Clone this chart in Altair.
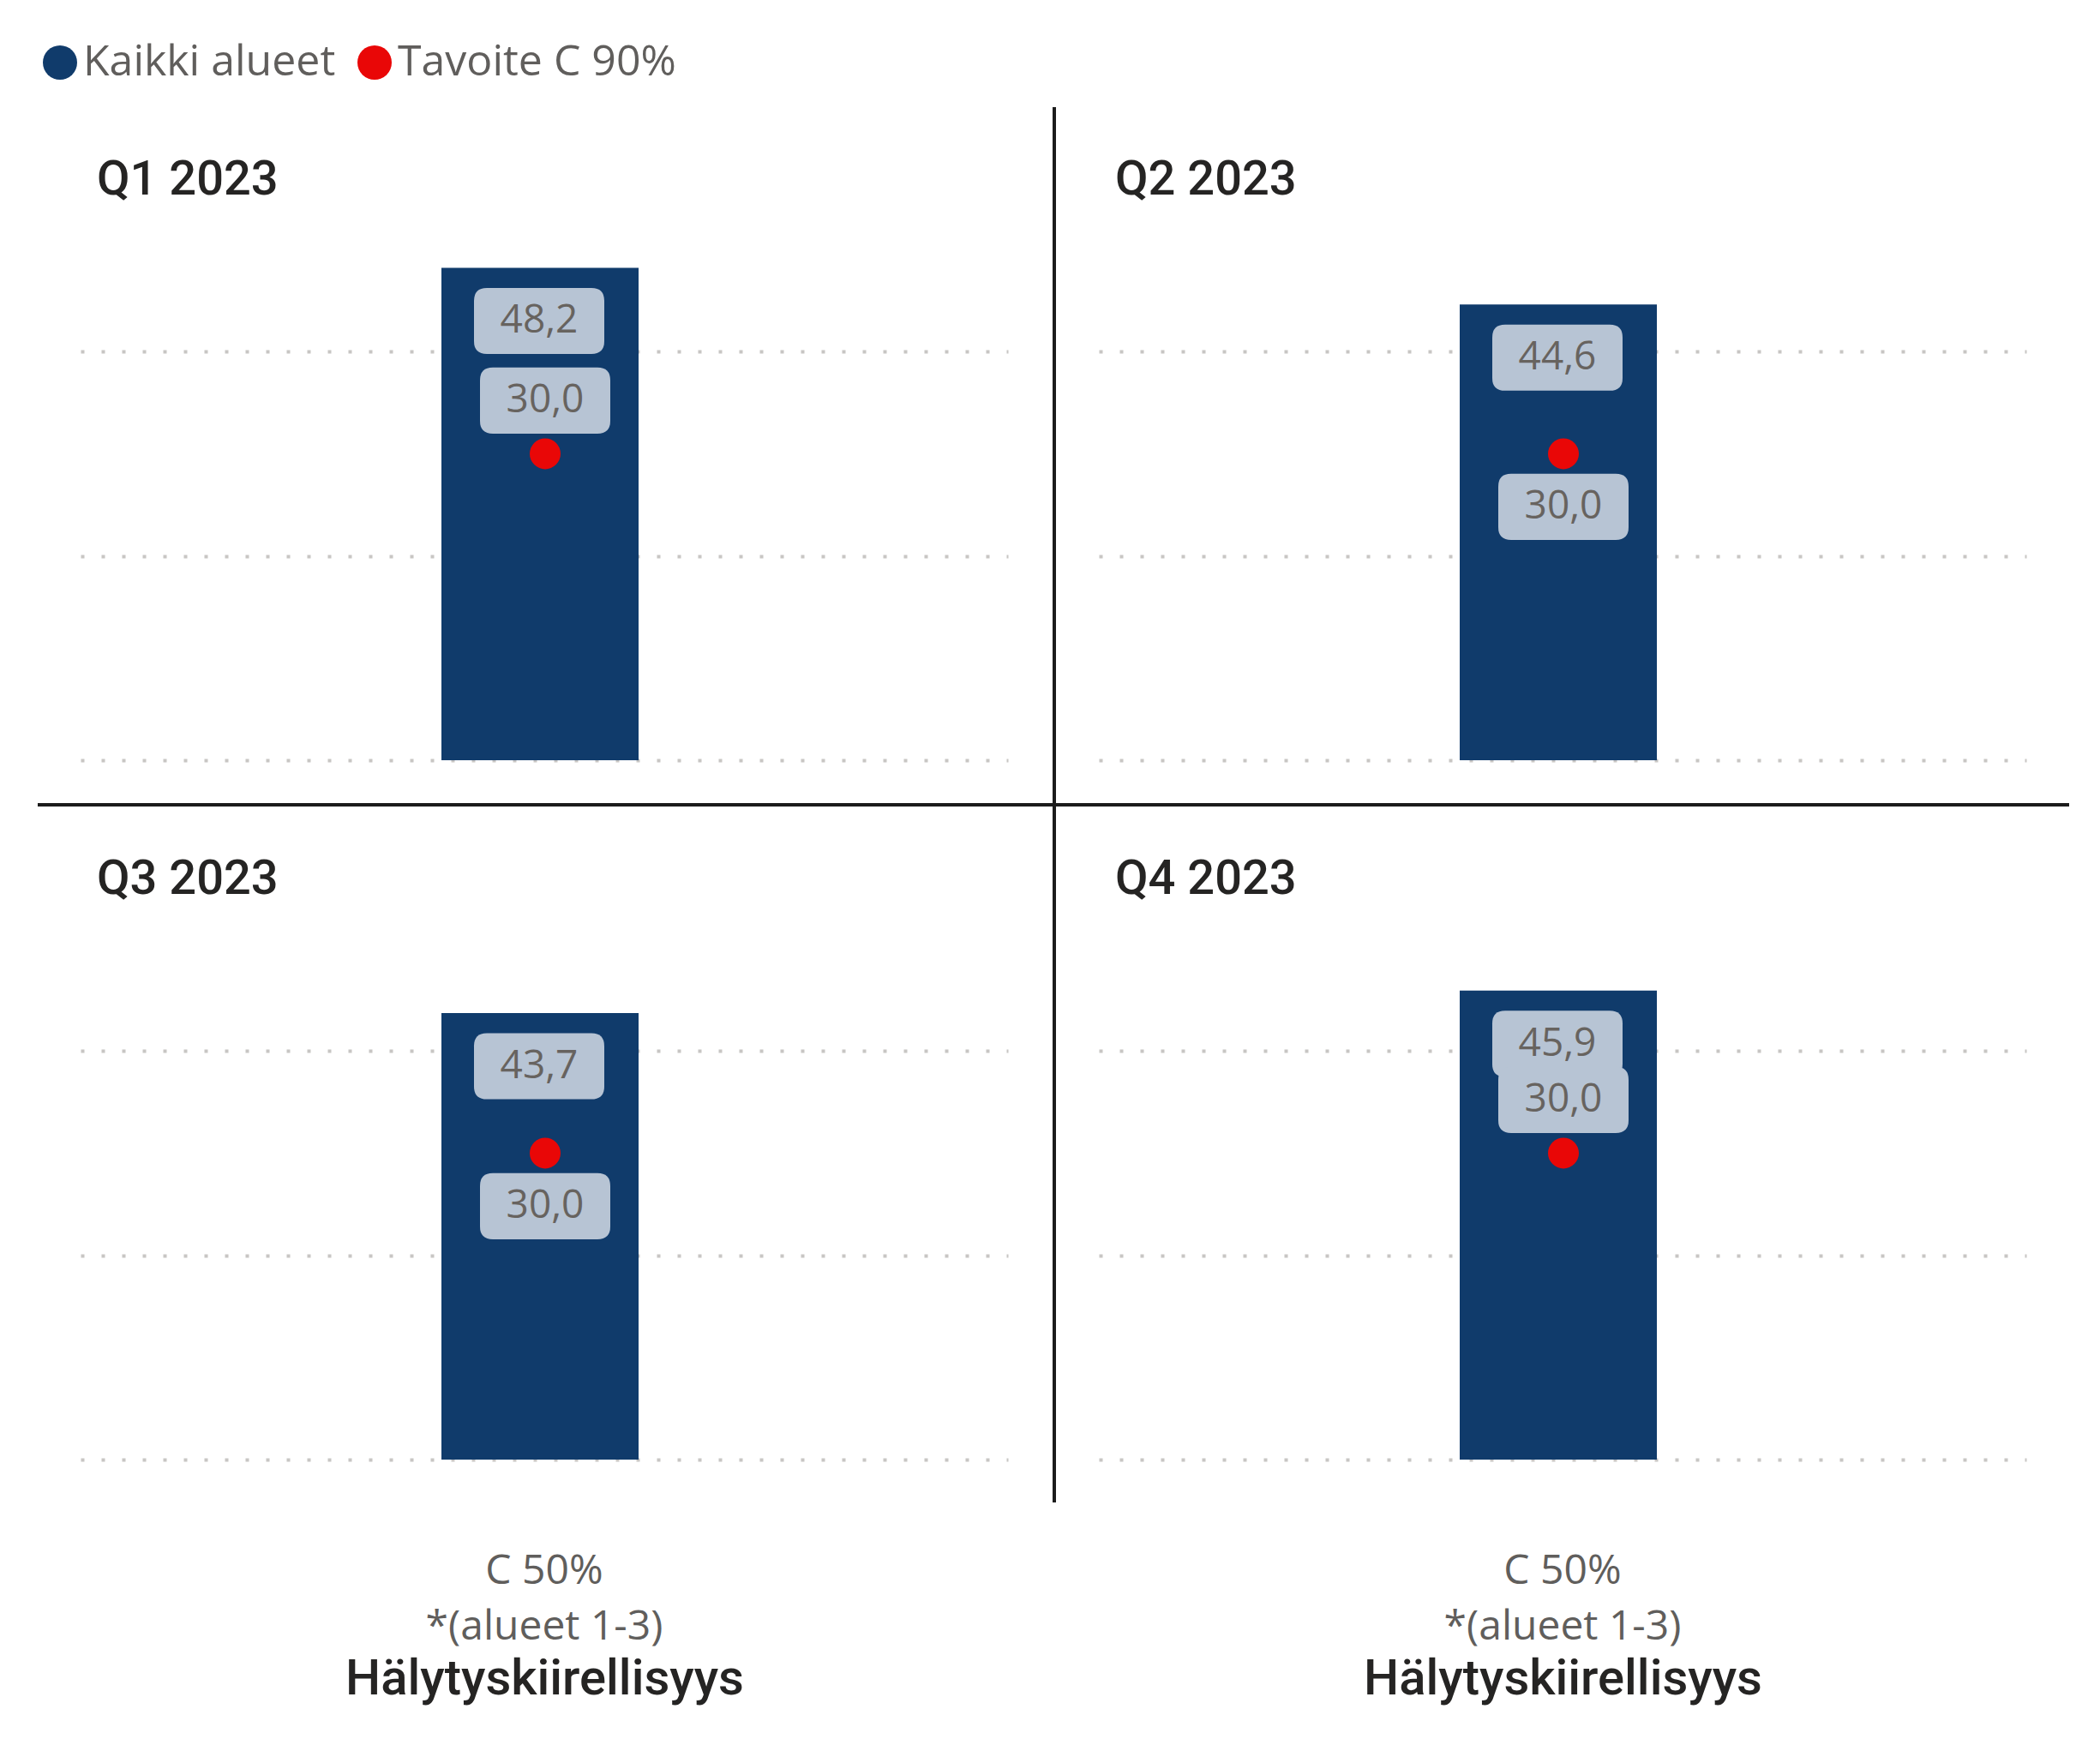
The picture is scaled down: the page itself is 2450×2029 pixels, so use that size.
import altair as alt
import pandas as pd

# ---- data ----
quarters = ["Q1 2023", "Q2 2023", "Q3 2023", "Q4 2023"]
category_label = "C 50%|*(alueet 1-3)"
bar_values = [48.2, 44.6, 43.7, 45.9]
target_values = [30.0, 30.0, 30.0, 30.0]
target_label_side = ["above", "below", "below", "above"]
series_names = ["Kaikki alueet", "Tavoite C 90%"]
series_colors = ["#103B6B", "#E90707"]
axis_title = "Hälytyskiirellisyys"
grid_values = [0, 20, 40]

# ---- styling ----
W, H = 1082, 816
Y_DOMAIN = [-4.36, 64.09]
SANS = "Open Sans"
DIN = "Roboto"
GRAY = "#605E5C"
DARK = "#252423"
BOX_FILL = "#B7C4D4"
LABEL_GRAY = "#67635F"
DIVIDER = "#1C1C1C"
BOX_PATH = ("M -0.803,-0.507 L 0.803,-0.507 Q 1,-0.507 1,-0.31 L 1,0.31 "
            "Q 1,0.507 0.803,0.507 L -0.803,0.507 Q -1,0.507 -1,0.31 "
            "L -1,-0.31 Q -1,-0.507 -0.803,-0.507 Z")
BOX_SIZE = 152 * 152
LABEL_OFF = 62

color_scale = alt.Scale(domain=series_names, range=series_colors)
legend_def = alt.Legend(
    title=None, orient="none", legendX=-49, legendY=-75, direction="horizontal",
    symbolType="circle", symbolSize=1600, symbolStrokeWidth=0,
    labelFont=SANS, labelFontSize=50, labelColor=GRAY, labelOffset=2,
    labelLimit=2000, columnPadding=20, padding=0, rowPadding=0,
)


def panel(i):
    top = i < 2
    left = i % 2 == 0
    df = pd.DataFrame({
        "quarter": [quarters[i]],
        "category": [category_label],
        "value": [bar_values[i]],
        "target": [target_values[i]],
        "side": [target_label_side[i]],
        "bar_series": [series_names[0]],
        "target_series": [series_names[1]],
    })
    base = alt.Chart(df).transform_calculate(
        value_label="replace(format(datum.value, '.1f'), '.', ',')",
        target_label="replace(format(datum.target, '.1f'), '.', ',')",
    )

    if top:
        x_axis = None
    else:
        x_axis = alt.Axis(
            title=axis_title, labelExpr="split(datum.label, '|')",
            labelAngle=0, ticks=False, domain=False, labelLimit=2000,
            labelFont=SANS, labelFontSize=48, labelColor=GRAY,
            labelLineHeight=65, labelPadding=54, labelBaseline="top",
            titleFont=DIN, titleFontWeight=500, titleFontSize=58,
            titleColor=DARK, titleBaseline="alphabetic", titleY=221,
            titleLimit=2000,
        )
    x = alt.X("category:N", axis=x_axis, scale=alt.Scale(paddingInner=0, paddingOuter=0))
    y_scale = alt.Scale(domain=Y_DOMAIN, nice=False, zero=False)
    y_axis = alt.Axis(values=grid_values, labels=False, ticks=False, domain=False,
                      grid=True, gridDash=[4, 20], gridWidth=4, gridColor="#C8C6C4",
                      title="")

    bars = base.transform_calculate(series="datum.bar_series").mark_bar(
        size=230, xOffset=-5
    ).encode(
        x=x,
        y=alt.Y("value:Q", scale=y_scale, axis=y_axis),
        color=alt.Color("series:N", scale=color_scale, legend=legend_def),
    )
    dots = base.transform_calculate(series="datum.target_series").mark_point(
        filled=True, shape="circle", size=1296, opacity=1, xOffset=1, strokeWidth=0
    ).encode(
        x=x,
        y=alt.Y("target:Q", scale=y_scale),
        color=alt.Color("series:N", scale=color_scale, legend=legend_def),
    )
    bar_box = base.mark_point(
        shape=BOX_PATH, size=BOX_SIZE, filled=True, color=BOX_FILL, opacity=1,
        strokeWidth=0, xOffset=-6, yOffset=LABEL_OFF,
    ).encode(x=x, y=alt.Y("value:Q", scale=y_scale))
    bar_text = base.mark_text(
        font=SANS, fontSize=46, color=LABEL_GRAY, baseline="middle",
        xOffset=-6, yOffset=LABEL_OFF,
    ).encode(x=x, y=alt.Y("value:Q", scale=y_scale), text="value_label:N")

    layers = [bars, dots, bar_box, bar_text]
    for side, off in (("above", -LABEL_OFF), ("below", LABEL_OFF)):
        sub = base.transform_filter(alt.datum.side == side)
        layers.append(sub.mark_point(
            shape=BOX_PATH, size=BOX_SIZE, filled=True, color=BOX_FILL, opacity=1,
            strokeWidth=0, xOffset=1, yOffset=off,
        ).encode(x=x, y=alt.Y("target:Q", scale=y_scale)))
        layers.append(sub.mark_text(
            font=SANS, fontSize=46, color=LABEL_GRAY, baseline="middle",
            xOffset=1, yOffset=off,
        ).encode(x=x, y=alt.Y("target:Q", scale=y_scale), text="target_label:N"))

    title = base.mark_text(
        align="left", baseline="middle", font=DIN, fontWeight=500,
        fontSize=56, color=DARK,
    ).encode(x=alt.value(19), y=alt.value(87), text="quarter:N")
    layers.append(title)

    if left:
        layers.append(base.mark_rule(color=DIVIDER, strokeWidth=4).encode(
            x=alt.value(1136), y=alt.value(2 if top else 0),
            y2=alt.value(H if top else H - 2)))
    if top:
        x0, x1 = (-50, 1136) if left else (-52, 1132)
        layers.append(base.mark_rule(color=DIVIDER, strokeWidth=4).encode(
            y=alt.value(H), x=alt.value(x0), x2=alt.value(x1)))

    return alt.layer(*layers).properties(width=W, height=H)


chart = alt.concat(
    *[panel(i) for i in range(4)],
    columns=2,
    spacing={"row": 0, "column": 106},
    bounds="flush",
).properties(
    padding={"left": 34, "top": 40, "right": 20, "bottom": 10},
    background="white",
).configure_view(strokeWidth=0)

chart.save("out.html", embed_options={"renderer": "svg", "actions": False})
